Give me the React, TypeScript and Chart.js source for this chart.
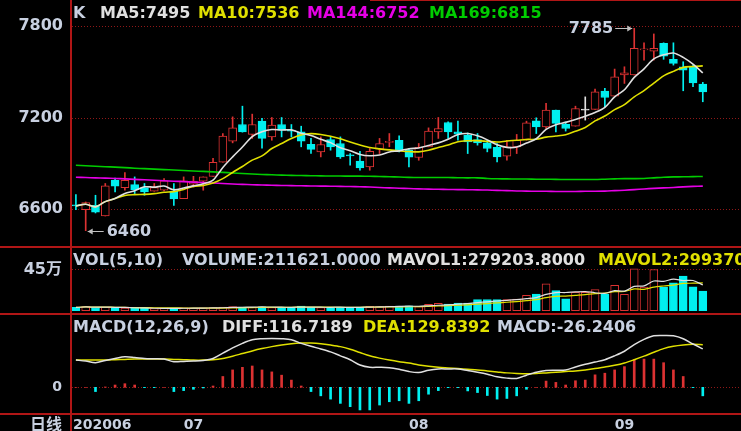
import React, { useEffect, useRef } from 'react';
import { Chart, registerables } from 'chart.js';
Chart.register(...registerables);

const W = 741;
const H = 431;

// ---- data ----
const opens = [6626, 6598, 6626, 6556, 6790, 6742, 6762, 6742, 6718, 6725, 6718, 6670, 6764, 6784, 6816, 6908, 7046, 7155, 7090, 7177, 7074, 7155, 7118, 7107, 7026, 6976, 7057, 7031, 6954, 6915, 6877, 6994, 7038, 7052, 6987, 6939, 7009, 7107, 7168, 7107, 7085, 7057, 7035, 7005, 6948, 7009, 7057, 7179, 7140, 7249, 7157, 7144, 7249, 7254, 7374, 7341, 7479, 7479, 7643, 7636, 7687, 7582, 7533, 7533, 7420];
const highs = [6696, 6648, 6692, 6769, 6805, 6841, 6812, 6769, 6769, 6801, 6769, 6812, 6816, 6812, 6933, 7096, 7205, 7275, 7223, 7195, 7201, 7201, 7155, 7144, 7064, 7074, 7074, 7074, 6965, 6980, 6998, 7064, 7096, 7081, 6998, 7031, 7133, 7201, 7172, 7177, 7100, 7096, 7052, 7031, 7052, 7090, 7177, 7199, 7293, 7249, 7172, 7275, 7336, 7387, 7392, 7518, 7533, 7785, 7690, 7748, 7690, 7690, 7566, 7544, 7431];
const lows = [6598, 6460, 6576, 6556, 6713, 6725, 6703, 6692, 6718, 6720, 6626, 6670, 6746, 6725, 6816, 6908, 7035, 7105, 7064, 7000, 7052, 7074, 7074, 7009, 6965, 6943, 6987, 6933, 6889, 6856, 6856, 6965, 7009, 6976, 6877, 6921, 7009, 7064, 7064, 7052, 6965, 7020, 6976, 6910, 6921, 6965, 7052, 7096, 7129, 7107, 7112, 7144, 7184, 7254, 7271, 7341, 7424, 7479, 7577, 7577, 7582, 7544, 7376, 7402, 7304];
const closes = [6622, 6644, 6582, 6753, 6751, 6790, 6729, 6713, 6742, 6786, 6668, 6786, 6784, 6812, 6908, 7079, 7133, 7107, 7155, 7064, 7151, 7118, 7111, 7046, 6992, 7024, 7009, 6943, 6950, 6871, 6980, 7031, 7044, 6987, 6941, 7005, 7112, 7129, 7107, 7092, 7041, 7035, 6998, 6943, 7009, 7052, 7166, 7140, 7249, 7162, 7129, 7260, 7249, 7369, 7332, 7468, 7494, 7654, 7651, 7654, 7603, 7555, 7511, 7428, 7369];
const ma144 = [6810, 6808, 6806, 6804, 6802, 6799, 6796, 6793, 6790, 6787, 6784, 6781, 6778, 6775, 6772, 6769, 6766, 6763, 6761, 6759, 6757, 6756, 6755, 6754, 6753, 6752, 6751, 6750, 6749, 6748, 6746, 6743, 6740, 6738, 6736, 6734, 6732, 6731, 6730, 6729, 6728, 6727, 6726, 6724, 6722, 6720, 6719, 6718, 6718, 6717, 6717, 6717, 6718, 6718, 6719, 6722, 6725, 6729, 6733, 6737, 6740, 6743, 6747, 6750, 6752];
const ma169 = [6888, 6885, 6882, 6879, 6876, 6873, 6869, 6866, 6863, 6860, 6857, 6854, 6851, 6848, 6845, 6842, 6838, 6834, 6831, 6828, 6826, 6824, 6822, 6821, 6820, 6819, 6818, 6818, 6817, 6817, 6816, 6815, 6813, 6811, 6809, 6808, 6808, 6808, 6808, 6807, 6806, 6806, 6802, 6800, 6799, 6798, 6798, 6797, 6797, 6796, 6795, 6795, 6795, 6795, 6797, 6799, 6801, 6801, 6802, 6806, 6810, 6812, 6813, 6814, 6815];
const volumes = [36000, 45000, 35000, 40000, 30000, 28000, 26000, 25000, 24000, 26000, 28000, 30000, 28000, 30000, 35000, 38000, 45000, 40000, 38000, 42000, 35000, 38000, 30000, 50000, 36000, 35000, 34000, 38000, 36000, 40000, 48000, 45000, 50000, 50000, 52000, 45000, 70000, 80000, 73000, 84000, 84000, 120000, 120000, 120000, 120000, 125000, 168000, 182000, 292000, 218000, 128000, 201000, 201000, 229000, 182000, 277000, 179000, 455000, 256000, 448000, 256000, 303000, 375000, 259000, 212000];
const diffs = [83, 80, 75, 82, 88, 93, 91, 88, 87, 86, 78, 79, 80, 82, 88, 104, 120, 134, 145, 148, 149, 148, 145, 134, 125, 117, 108, 96, 84, 68, 61, 61, 60, 55, 48, 45, 52, 56, 56, 56, 51, 46, 40, 32, 28, 27, 37, 46, 51, 52, 53, 62, 70, 77, 84, 96, 110, 130, 146, 157, 158, 157, 148, 132, 117];
const deas = [83, 83, 83, 83, 84, 85, 86, 86, 86, 86, 85, 84, 83, 83, 84, 88, 95, 103, 111, 118, 124, 129, 133, 135, 135, 133, 129, 124, 116, 106, 96, 89, 83, 78, 74, 68, 64, 61, 59, 57, 55, 53, 50, 47, 44, 42, 41, 42, 44, 46, 48, 50, 53, 57, 62, 67, 74, 84, 95, 107, 118, 125, 129, 131, 130];
const macdBars = [0, 0, -13, 1, 7, 11, 7, -1, -1, 0, -13, -10, -6, -2, 4, 33, 53, 61, 65, 53, 47, 37, 22, 4, -13, -26, -36, -49, -59, -69, -69, -54, -44, -41, -49, -41, -21, -10, -1, -1, -11, -16, -25, -36, -34, -26, -6, 0, 19, 15, 7, 20, 22, 38, 43, 53, 63, 85, 86, 86, 75, 53, 33, -1, -26];

const priceTicks = [6600, 7200, 7800];
const volTick = 450000;
const volTickLabel = '45万';
const macdTick = 0;
const monthStarts = [0, 12, 35, 56];
const monthLabels = ['202006', '07', '08', '09'];
const periodLabel = '日线';

const priceHeader = ['K', 'MA5:7495', 'MA10:7536', 'MA144:6752', 'MA169:6815'];
const volHeader = ['VOL(5,10)', 'VOLUME:211621.0000', 'MAVOL1:279203.8000', 'MAVOL2:299370.5000'];
const macdHeader = ['MACD(12,26,9)', 'DIFF:116.7189', 'DEA:129.8392', 'MACD:-26.2406'];

// ---- styles ----
const RED = '#dc3232';
const CYAN = '#00f0f0';
const WHITE = '#e0e0e0';
const YELLOW = '#e0e000';
const MAGENTA = '#e600e6';
const GREEN = '#00cc00';
const TXT = '#c8d0e0';
const AXIS_RED = '#b01616';
const GRID_RED = '#901818';
const FONT = "'DejaVu Sans', 'Noto Sans CJK SC', sans-serif";

const movingAvg = (arr: number[], n: number) =>
  arr.map((_, i) => {
    const s = arr.slice(Math.max(0, i - n + 1), i + 1);
    return s.reduce((a, b) => a + b, 0) / s.length;
  });

const idx = closes.map((_, i) => i);
const ma5 = movingAvg(closes, 5);
const ma10 = movingAvg(closes, 10);
const vma5 = movingAvg(volumes, 5);
const vma10 = movingAvg(volumes, 10);

const isUp = (i: number) => closes[i] > opens[i];
const isDoji = (i: number) => closes[i] === opens[i];
const candleColor = idx.map((i) => (isDoji(i) ? WHITE : isUp(i) ? RED : CYAN));
const volColor = idx.map((i) => (closes[i] >= opens[i] ? RED : CYAN));

const pts = (arr: number[]) => idx.map((i) => ({ x: i, y: arr[i] }));

const decoPlugin = {
  id: 'deco',
  beforeDatasetsDraw(chart: any) {
    const { ctx, scales } = chart;
    ctx.save();
    ctx.strokeStyle = GRID_RED;
    ctx.lineWidth = 1;
    ctx.setLineDash([1, 2]);
    const hl = (y: number) => {
      const yy = Math.round(y) + 0.5;
      ctx.beginPath();
      ctx.moveTo(72, yy);
      ctx.lineTo(W, yy);
      ctx.stroke();
    };
    priceTicks.forEach((v) => hl(scales.yP.getPixelForValue(v)));
    hl(scales.yV.getPixelForValue(volTick));
    hl(scales.yM.getPixelForValue(macdTick));
    ctx.restore();
  },
  afterDraw(chart: any) {
    const { ctx, scales } = chart;
    const xs = scales.x;
    const yP = scales.yP;
    ctx.save();
    ctx.setLineDash([]);
    // panel frames
    ctx.fillStyle = AXIS_RED;
    ctx.fillRect(70, 0, 2, H);
    ctx.fillRect(0, 246, W, 2);
    ctx.fillRect(0, 313, W, 2);
    ctx.fillRect(0, 413, W, 2);
    ctx.fillRect(370, 0, W - 370, 1);

    // axis labels
    ctx.font = `bold 16px ${FONT}`;
    ctx.textAlign = 'right';
    ctx.textBaseline = 'middle';
    ctx.fillStyle = TXT;
    priceTicks.forEach((v) => ctx.fillText(String(v), 63, yP.getPixelForValue(v)));
    ctx.fillText(volTickLabel, 62, scales.yV.getPixelForValue(volTick) + 1);
    ctx.font = `bold 14px ${FONT}`;
    ctx.fillText(String(macdTick), 62, scales.yM.getPixelForValue(macdTick));
    ctx.font = `bold 16px ${FONT}`;
    ctx.fillText(periodLabel, 62, 426);

    // month labels
    ctx.font = `bold 14px ${FONT}`;
    monthStarts.forEach((m, k) => {
      const px = xs.getPixelForValue(m);
      if (k === 0) {
        ctx.textAlign = 'left';
        ctx.fillText(monthLabels[k], 73, 425);
      } else {
        ctx.textAlign = 'center';
        ctx.fillText(monthLabels[k], px, 425);
      }
    });

    // headers
    ctx.font = `bold 16px ${FONT}`;
    ctx.textAlign = 'left';
    ctx.textBaseline = 'alphabetic';
    const seg = (t: string, x: number, y: number, c: string) => {
      ctx.fillStyle = c;
      ctx.fillText(t, x, y);
    };
    const pColors = [TXT, WHITE, YELLOW, MAGENTA, GREEN];
    const pX = [73, 100, 198, 307, 429];
    priceHeader.forEach((t, k) => seg(t, pX[k], 17.5, pColors[k]));
    const vColors = [TXT, TXT, WHITE, YELLOW];
    const vX = [73, 182, 387, 598];
    volHeader.forEach((t, k) => seg(t, vX[k], 264.5, vColors[k]));
    const mColors = [TXT, WHITE, YELLOW, TXT];
    const mX = [73, 222, 363, 497];
    macdHeader.forEach((t, k) => seg(t, mX[k], 331.5, mColors[k]));

    // extreme annotations
    let hi = 0;
    let lo = 0;
    idx.forEach((i) => {
      if (highs[i] > highs[hi]) hi = i;
      if (lows[i] < lows[lo]) lo = i;
    });
    const arrow = (x1: number, x2: number, y: number) => {
      ctx.strokeStyle = '#c0c0c0';
      ctx.fillStyle = '#c0c0c0';
      ctx.lineWidth = 1;
      ctx.beginPath();
      ctx.moveTo(x1, y + 0.5);
      ctx.lineTo(x2, y + 0.5);
      ctx.stroke();
      const d = x2 > x1 ? -1 : 1;
      ctx.beginPath();
      ctx.moveTo(x2, y + 0.5);
      ctx.lineTo(x2 + d * 5, y - 2.5);
      ctx.lineTo(x2 + d * 5, y + 3.5);
      ctx.closePath();
      ctx.fill();
    };
    ctx.textBaseline = 'middle';
    const hx = xs.getPixelForValue(hi);
    const hy = Math.round(yP.getPixelForValue(highs[hi]));
    arrow(hx - 19, hx - 2, hy);
    ctx.fillStyle = TXT;
    ctx.textAlign = 'right';
    ctx.fillText(String(highs[hi]), hx - 21, hy + 1);
    const lx = xs.getPixelForValue(lo);
    const ly = Math.round(yP.getPixelForValue(lows[lo]));
    arrow(lx + 18, lx + 2, ly);
    ctx.fillStyle = TXT;
    ctx.textAlign = 'left';
    ctx.fillText(String(lows[lo]), lx + 21, ly + 1);
    ctx.restore();
  },
};

export default function App() {
  const ref = useRef<HTMLCanvasElement>(null);
  useEffect(() => {
    const lineDs = (arr: number[], axis: string, color: string, width: number, order: number) => ({
      type: 'line' as const,
      yAxisID: axis,
      data: pts(arr),
      borderColor: color,
      borderWidth: width,
      pointRadius: 0,
      tension: 0.3,
      order,
    });
    const chart = new Chart(ref.current as HTMLCanvasElement, {
      type: 'bar',
      data: {
        datasets: [
          {
            type: 'bar',
            yAxisID: 'yP',
            data: idx.map((i) => ({ x: i, y: [lows[i], highs[i]] })) as any,
            backgroundColor: candleColor,
            borderWidth: 0,
            barThickness: 1,
            grouped: false,
            order: 30,
          },
          {
            type: 'bar',
            yAxisID: 'yP',
            data: idx.map((i) => ({ x: i, y: [opens[i], closes[i]] })) as any,
            backgroundColor: idx.map((i) => (isUp(i) ? '#000' : candleColor[i])),
            borderColor: candleColor,
            borderWidth: 1,
            borderSkipped: false,
            barThickness: 8,
            minBarLength: 1,
            grouped: false,
            order: 29,
          },
          lineDs(ma169, 'yP', GREEN, 1.6, 5),
          lineDs(ma144, 'yP', MAGENTA, 1.6, 4),
          lineDs(ma10, 'yP', YELLOW, 1.6, 3),
          lineDs(ma5, 'yP', WHITE, 1.6, 2),
          {
            type: 'bar',
            yAxisID: 'yV',
            data: pts(volumes) as any,
            backgroundColor: idx.map((i) => (volColor[i] === RED ? '#000' : CYAN)),
            borderColor: volColor,
            borderWidth: 1,
            borderSkipped: false,
            barThickness: 8,
            grouped: false,
            order: 28,
          },
          lineDs(vma10, 'yV', YELLOW, 1.2, 7),
          lineDs(vma5, 'yV', WHITE, 1.2, 6),
          {
            type: 'bar',
            yAxisID: 'yM',
            data: pts(macdBars) as any,
            backgroundColor: macdBars.map((v) => (v >= 0 ? RED : CYAN)),
            borderWidth: 0,
            barThickness: 2,
            grouped: false,
            order: 27,
          },
          lineDs(deas, 'yM', YELLOW, 1.5, 9),
          lineDs(diffs, 'yM', WHITE, 1.5, 8),
        ] as any,
      },
      options: {
        responsive: false,
        animation: false,
        devicePixelRatio: 1,
        events: [],
        layout: { padding: 0 },
        plugins: { legend: { display: false }, tooltip: { enabled: false } },
        scales: {
          x: { type: 'linear', min: -7.749, max: 67.9, offset: false, display: false },
          yP: { type: 'linear', min: 5148.6, max: 7970.2, display: false },
          yV: { type: 'linear', min: -1307613, max: 3377185, display: false },
          yM: { type: 'linear', min: -133.2, max: 1180.8, display: false },
        },
      } as any,
      plugins: [decoPlugin],
    });
    return () => chart.destroy();
  }, []);
  return (
    <div style={{ position: 'fixed', left: 0, top: 0, width: W, height: H, background: '#000' }}>
      <canvas ref={ref} width={W} height={H} style={{ display: 'block', width: W, height: H }} />
    </div>
  );
}
